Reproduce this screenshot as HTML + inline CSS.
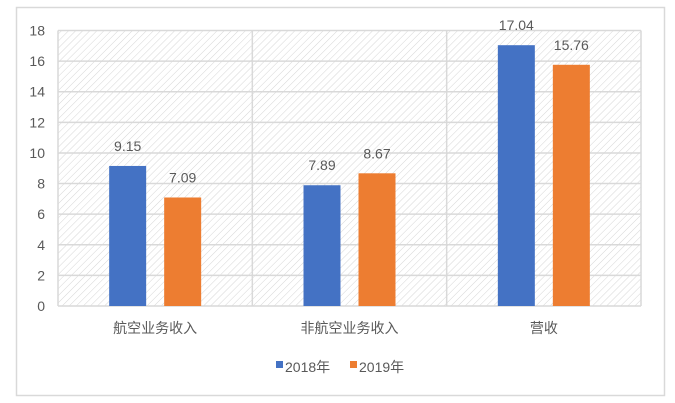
<!DOCTYPE html>
<html><head><meta charset="utf-8">
<style>
html,body{margin:0;padding:0;background:#fff;}
svg{display:block;font-family:"Liberation Sans","Noto Sans CJK SC",sans-serif;}
</style></head>
<body>
<svg id="chart" width="675" height="403" viewBox="0 0 675 403">
<defs>
<pattern id="hatch" patternUnits="userSpaceOnUse" width="5" height="5" patternTransform="rotate(45)">
<line x1="0" y1="0" x2="0" y2="5" stroke="#d6d6d6" stroke-width="1"/>
</pattern>
</defs>
<rect x="16.5" y="7.5" width="648" height="388" fill="#fff" stroke="#d9d9d9" stroke-width="1.5"/>
<g id="plot"></g>
</svg>
<script>
const categories = ["航空业务收入", "非航空业务收入", "营收"];
const series2018 = [9.15, 7.89, 17.04];
const series2019 = [7.09, 8.67, 15.76];
const seriesNames = ["2018年", "2019年"];
const yTicks = [0, 2, 4, 6, 8, 10, 12, 14, 16, 18];

const NS = "http://www.w3.org/2000/svg";
const L = 58, R = 641, T = 30.5, B = 306, yMax = 18;
const colors = ["#4472c4", "#ed7d31"];
const g = document.getElementById("plot");
function y(v){ return B - (v / yMax) * (B - T); }
const bandW = (R - L) / categories.length;
function mk(tag, attrs, text){
  const e = document.createElementNS(NS, tag);
  for (const k in attrs) e.setAttribute(k, attrs[k]);
  if (text !== undefined) e.textContent = text;
  g.appendChild(e);
  return e;
}
let bg = mk("rect", {x:L, y:T, width:R-L, height:B-T, fill:"url(#hatch)"});


yTicks.forEach(t => {
  let ln = mk("line", {x1:L, x2:R, y1:y(t), y2:y(t), stroke:"#d9d9d9", "stroke-width":1.5});
  
  
  let tx = mk("text", {x:L-13, y:y(t)+5, "text-anchor":"end", "font-size":14, fill:"#595959"}, String(t));
  
  
});
for (let i = 0; i <= categories.length; i++) {
  let ln = mk("line", {x1:L+i*bandW, x2:L+i*bandW, y1:T, y2:B, stroke:"#d9d9d9", "stroke-width":1.5});
  
  
}
const barW = 37, gap = 18;
const all = [series2018, series2019];
categories.forEach((c, i) => {
  const cx = L + bandW * (i + 0.5);
  all.forEach((s, j) => {
    const x0 = j === 0 ? cx - gap/2 - barW : cx + gap/2;
    let r = mk("rect", {x:x0, y:y(s[i]), width:barW, height:B - y(s[i]), fill:colors[j]});
    
    
    let lb = mk("text", {x:x0 + barW/2, y:y(s[i]) - 15, "text-anchor":"middle", "font-size":14, fill:"#595959"}, s[i].toFixed(2));
    
    
  });
  let ct = mk("text", {x:cx, y:333, "text-anchor":"middle", "font-size":14, fill:"#595959"}, c);
  
  
});
const legX = [276, 350];
seriesNames.forEach((n, j) => {
  let sq = mk("rect", {x:legX[j], y:361, width:7, height:7, fill:colors[j]});
  
  
  let t = mk("text", {x:legX[j]+9, y:372, "font-size":14, fill:"#595959"}, n);
  
  
});
</script>
</body></html>
